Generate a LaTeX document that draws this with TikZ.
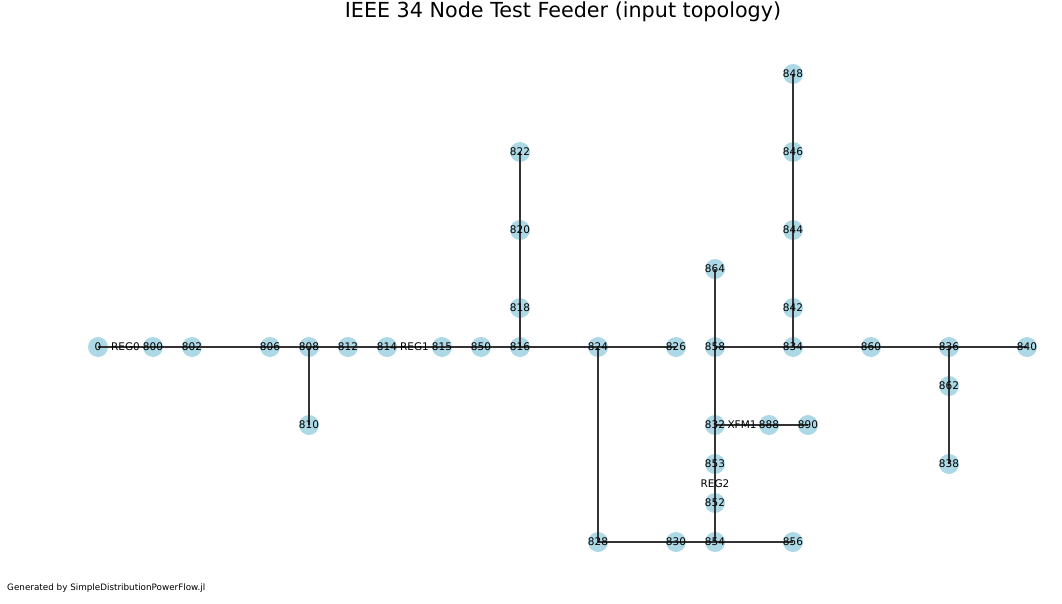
\documentclass[tikz,border=0pt]{standalone}
\usepackage{fontspec}
\setmainfont{DejaVu Sans}
\begin{document}
\begin{tikzpicture}[x=1pt,y=-1pt,
  bus/.style={circle,fill=nodeblue,draw=none,minimum size=20pt,inner sep=0pt},
  lbl/.style={font=\fontsize{10.5}{11}\selectfont,inner sep=0pt},
  edge/.style={draw=black!80,line width=1.05pt},
  elbl/.style={font=\fontsize{10.5}{11}\selectfont,inner sep=0pt}]
\definecolor{nodeblue}{HTML}{ADD8E6}
\useasboundingbox (0,0) rectangle (1062,604);
% nodes
\foreach \n/\x/\y in {0/98/347,800/153/347,802/192/347,806/270/347,808/309/347,812/348/347,814/387/347,815/442/347,850/481/347,816/520/347,824/598/347,826/676/347,858/715/347,834/793/347,860/871/347,836/949/347,840/1027/347,
  848/793/74,822/520/152,846/793/152,820/520/230,844/793/230,864/715/269,818/520/308,842/793/308,
  862/949/386,810/309/425,832/715/425,888/769/425,890/808/425,853/715/464,838/949/464,852/715/503,
  828/598/542,830/676/542,854/715/542,856/793/542}
  {\node[bus] (n\n) at (\x,\y) {};}
% edges
\foreach \a/\b in {800/802,802/806,806/808,808/810,808/812,812/814,815/850,850/816,816/818,818/820,820/822,816/824,824/826,824/828,828/830,830/854,854/856,854/852,853/832,832/858,888/890,858/864,858/834,834/842,842/844,844/846,846/848,834/860,860/836,836/840,836/862,862/838}
  {\draw[edge] (n\a.center) -- (n\b.center);}
\draw[edge] (n0.center) -- node[elbl]{REG0} (n800.center);
\draw[edge] (n814.center) -- node[elbl]{REG1} (n815.center);
\draw[edge] (n852.center) -- node[elbl]{REG2} (n853.center);
\draw[edge] (n832.center) -- node[elbl]{XFM1} (n888.center);
% labels
\foreach \n in {0,800,802,806,808,812,814,815,850,816,824,826,858,834,860,836,840,848,822,846,820,844,864,818,842,862,810,832,888,890,853,838,852,828,830,854,856}
  {\node[lbl] at (n\n) {\n};}
\node[font=\fontsize{20.7}{24}\selectfont,inner sep=0pt] (title) at (563,12) {IEEE 34 Node Test Feeder (input topology)};
\node[font=\fontsize{8.8}{10}\selectfont,inner sep=0pt,anchor=west] (foot) at (7,588) {Generated by SimpleDistributionPowerFlow.jl};
\end{tikzpicture}
\end{document}
